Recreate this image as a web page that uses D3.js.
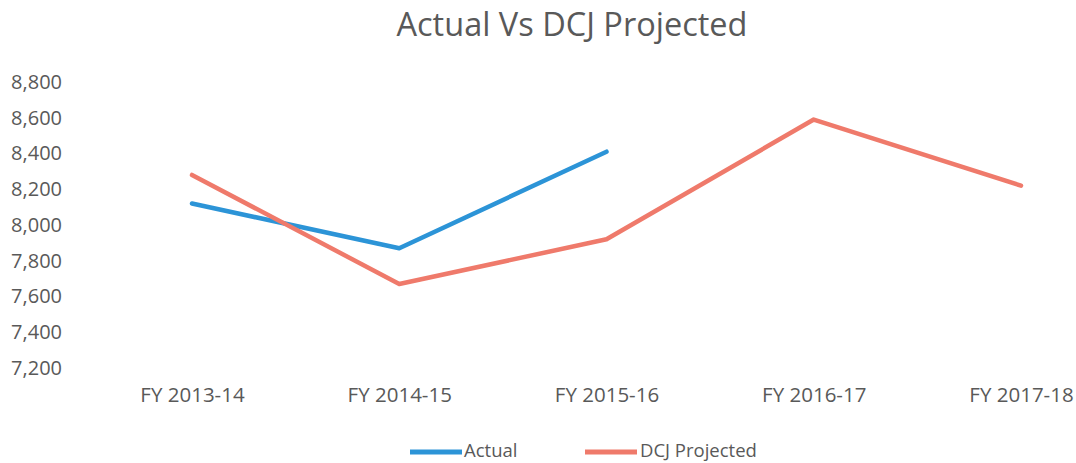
<!DOCTYPE html>
<html>
<head>
<meta charset="utf-8">
<script src="https://cdn.jsdelivr.net/npm/d3@7"></script>
<style>
  html, body { margin: 0; padding: 0; background: #fff; }
  svg { display: block; font-family: "Open Sans", sans-serif; }
</style>
</head>
<body>
<svg id="chart" width="1076" height="463"></svg>
<script>
const categories = ["FY 2013-14", "FY 2014-15", "FY 2015-16", "FY 2016-17", "FY 2017-18"];
const actual = [8120, 7870, 8410, null, null];
const projected = [8280, 7670, 7920, 8590, 8220];
const yTicks = [7200, 7400, 7600, 7800, 8000, 8200, 8400, 8600, 8800];
const seriesNames = ["Actual", "DCJ Projected"];
const colors = ["#2C94D7", "#EF7A6B"];

const svg = d3.select("#chart");
const textColor = "#595959";

const x = d3.scalePoint().domain(categories).range([192, 1021]);
const y = d3.scaleLinear().domain([7200, 8800]).range([368, 82]);

// Title
svg.append("text")
  .attr("x", 572).attr("y", 36)
  .attr("text-anchor", "middle")
  .attr("font-size", 32.5)
  .attr("fill", textColor)
  .text("Actual Vs DCJ Projected");

// Y axis
const yAxis = d3.axisLeft(y).tickValues(yTicks).tickFormat(d3.format(",")).tickSize(0).tickPadding(0);
const yg = svg.append("g").attr("transform", "translate(62,0)").call(yAxis);
yg.select(".domain").remove();
yg.selectAll("text").attr("font-size", 20).attr("fill", textColor).attr("font-family", "Open Sans, sans-serif");

// X axis
const xAxis = d3.axisBottom(x).tickSize(0).tickPadding(0);
const xg = svg.append("g").attr("transform", "translate(0,387)").call(xAxis);
xg.select(".domain").remove();
xg.selectAll("text").attr("font-size", 20.5).attr("fill", textColor).attr("font-family", "Open Sans, sans-serif");

// Lines
const line = d3.line()
  .defined(d => d.v != null)
  .x(d => x(d.c))
  .y(d => y(d.v));

[actual, projected].forEach((vals, i) => {
  const data = categories.map((c, j) => ({ c, v: vals[j] }));
  svg.append("path")
    .datum(data)
    .attr("fill", "none")
    .attr("stroke", colors[i])
    .attr("stroke-width", 4.5)
    .attr("stroke-linejoin", "round")
    .attr("stroke-linecap", "round")
    .attr("d", line);
});

// Legend
const legendItems = [
  { name: seriesNames[0], color: colors[0], lx: 410, tx: 464 },
  { name: seriesNames[1], color: colors[1], lx: 585, tx: 640 }
];
legendItems.forEach(it => {
  svg.append("line")
    .attr("x1", it.lx).attr("x2", it.lx + 52)
    .attr("y1", 452).attr("y2", 452)
    .attr("stroke", it.color).attr("stroke-width", 5);
  svg.append("text")
    .attr("x", it.tx).attr("y", 451)
    .attr("dy", "0.35em")
    .attr("font-size", 18.5)
    .attr("fill", textColor)
    .text(it.name);
});
</script>
</body>
</html>
